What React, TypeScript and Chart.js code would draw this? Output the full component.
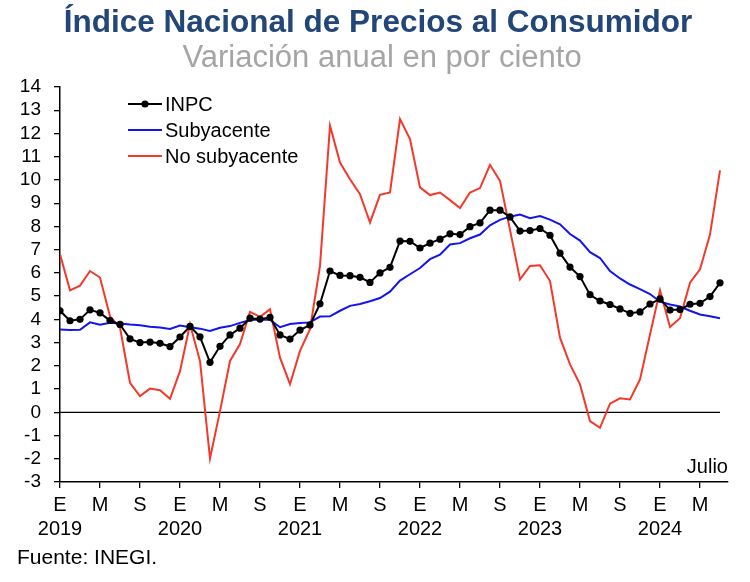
import React, { useEffect, useRef } from 'react';
import { Chart, registerables } from 'chart.js';

Chart.register(...registerables);

// Months from January 2019 to July 2024
const startYear = 2019;
const monthLetters = ['E', 'F', 'M', 'A', 'M', 'J', 'J', 'A', 'S', 'O', 'N', 'D'];
const tickMonths = [0, 4, 8, 12, 16, 20, 24, 28, 32, 36, 40, 44, 48, 52, 56, 60, 64];

const seriesNames = ['INPC', 'Subyacente', 'No subyacente'];
const seriesColors = ['#000000', '#1414F0', '#F2392B'];

const inpc = [
  4.37, 3.94, 4.00, 4.41, 4.28, 3.95, 3.78, 3.16, 3.00, 3.02, 2.97, 2.83,
  3.24, 3.70, 3.25, 2.15, 2.84, 3.33, 3.62, 4.05, 4.01, 4.09, 3.33, 3.15,
  3.54, 3.76, 4.67, 6.08, 5.89, 5.88, 5.81, 5.59, 6.00, 6.24, 7.37, 7.36,
  7.07, 7.28, 7.45, 7.68, 7.65, 7.99, 8.15, 8.70, 8.70, 8.41, 7.80, 7.82,
  7.91, 7.62, 6.85, 6.25, 5.84, 5.06, 4.79, 4.64, 4.45, 4.26, 4.32, 4.66,
  4.88, 4.40, 4.42, 4.65, 4.69, 4.98, 5.57,
];

const subyacente = [
  3.56, 3.54, 3.55, 3.87, 3.77, 3.85, 3.82, 3.78, 3.75, 3.68, 3.65, 3.59,
  3.73, 3.66, 3.60, 3.50, 3.64, 3.71, 3.85, 3.97, 3.99, 3.98, 3.66, 3.80,
  3.84, 3.87, 4.12, 4.13, 4.37, 4.58, 4.66, 4.78, 4.92, 5.19, 5.67, 5.94,
  6.21, 6.59, 6.78, 7.22, 7.28, 7.49, 7.65, 8.05, 8.28, 8.42, 8.51, 8.35,
  8.45, 8.29, 8.09, 7.67, 7.39, 6.89, 6.64, 6.08, 5.76, 5.50, 5.30, 5.09,
  4.76, 4.64, 4.55, 4.37, 4.21, 4.13, 4.05,
];

const noSubyacente = [
  6.80, 5.25, 5.45, 6.08, 5.80, 4.13, 3.65, 1.27, 0.70, 1.02, 0.95, 0.58,
  1.77, 3.79, 2.21, -1.99, 0.05, 2.21, 2.94, 4.32, 4.11, 4.43, 2.35, 1.21,
  2.64, 3.58, 6.30, 12.33, 10.75, 10.03, 9.39, 8.17, 9.36, 9.46, 12.62, 11.76,
  9.68, 9.35, 9.46, 9.13, 8.79, 9.46, 9.65, 10.65, 9.96, 7.85, 5.72, 6.30,
  6.33, 5.65, 3.21, 2.06, 1.20, -0.38, -0.67, 0.37, 0.60, 0.55, 1.41, 3.35,
  5.25, 3.67, 4.05, 5.58, 6.15, 7.65, 10.41,
];

const yMin = -3;
const yMax = 14;
const xMax = 66.8;

const FONT = '"Liberation Sans", Arial, Helvetica, sans-serif';

const toPoints = (arr: number[]) => arr.map((v, i) => ({ x: i, y: v }));

const legendPlugin = {
  id: 'customLegend',
  afterDraw(chart: any) {
    const ctx = chart.ctx as CanvasRenderingContext2D;
    ctx.save();
    seriesNames.forEach((name, i) => {
      const y = 104 + i * 26;
      ctx.strokeStyle = seriesColors[i];
      ctx.lineWidth = 2;
      ctx.beginPath();
      ctx.moveTo(128, y);
      ctx.lineTo(162, y);
      ctx.stroke();
      if (i === 0) {
        ctx.fillStyle = '#000';
        ctx.beginPath();
        ctx.arc(145, y, 3.6, 0, Math.PI * 2);
        ctx.fill();
      }
      ctx.fillStyle = '#000';
      ctx.font = `20px ${FONT}`;
      ctx.textBaseline = 'middle';
      ctx.textAlign = 'left';
      ctx.fillText(name, 165, y + 1);
    });
    ctx.restore();
  },
};

function App() {
  const ref = useRef<HTMLCanvasElement | null>(null);

  useEffect(() => {
    if (!ref.current) return;
    const chart = new Chart(ref.current, {
      type: 'line',
      data: {
        datasets: [
          {
            label: seriesNames[0],
            data: toPoints(inpc),
            borderColor: seriesColors[0],
            backgroundColor: seriesColors[0],
            borderWidth: 2,
            pointRadius: 3.6,
            pointBorderWidth: 0,
            pointBackgroundColor: '#000',
            tension: 0,
          },
          {
            label: seriesNames[1],
            data: toPoints(subyacente),
            borderColor: seriesColors[1],
            borderWidth: 2,
            pointRadius: 0,
            tension: 0,
          },
          {
            label: seriesNames[2],
            data: toPoints(noSubyacente),
            borderColor: seriesColors[2],
            borderWidth: 2,
            pointRadius: 0,
            tension: 0,
          },
          {
            label: 'cero',
            data: [
              { x: 0, y: 0 },
              { x: inpc.length - 1, y: 0 },
            ],
            borderColor: '#000',
            borderWidth: 1.3,
            pointRadius: 0,
          },
        ],
      },
      options: {
        responsive: false,
        animation: false,
        devicePixelRatio: 1,
        layout: { padding: { top: 87, right: 22, left: 0, bottom: 0 } },
        plugins: {
          legend: { display: false },
          tooltip: { enabled: false },
          title: { display: false },
        },
        scales: {
          x: {
            type: 'linear',
            min: 0,
            max: xMax,
            afterBuildTicks: (s: any) => {
              s.ticks = tickMonths.map((v) => ({ value: v }));
            },
            afterFit: (s: any) => {
              s.height = 100;
            },
            grid: {
              drawOnChartArea: false,
              drawTicks: true,
              tickLength: 6,
              color: '#000',
              lineWidth: 1.3,
            },
            border: { display: true, color: '#000', width: 1.5 },
            ticks: {
              autoSkip: false,
              maxRotation: 0,
              padding: 5,
              color: '#000',
              font: { family: FONT, size: 20, lineHeight: 1.225 },
              callback: (v: any) => {
                const m = Number(v);
                return [monthLetters[m % 12], m % 12 === 0 ? String(startYear + m / 12) : ''];
              },
            },
          },
          y: {
            min: yMin,
            max: yMax,
            afterFit: (s: any) => {
              s.width = 60;
            },
            grid: {
              drawOnChartArea: false,
              drawTicks: true,
              tickLength: 6,
              color: '#000',
              lineWidth: 1.3,
            },
            border: { display: true, color: '#000', width: 1.5 },
            ticks: {
              stepSize: 1,
              autoSkip: false,
              padding: 13,
              color: '#000',
              font: { family: FONT, size: 19 },
            },
          },
        },
      },
      plugins: [legendPlugin],
    });
    return () => chart.destroy();
  }, []);

  return (
    <div style={{ position: 'absolute', left: 0, top: 0, width: 750, height: 582, background: '#fff', fontFamily: FONT }}>
      <canvas ref={ref} width={750} height={582} style={{ position: 'absolute', left: 0, top: 0, width: 750, height: 582 }} />
      <div
        style={{
          position: 'absolute', left: 3, top: 6, width: 750, textAlign: 'center',
          fontSize: 31.5, lineHeight: '31.5px', fontWeight: 'bold', color: '#234679', whiteSpace: 'nowrap',
        }}
      >
        Índice Nacional de Precios al Consumidor
      </div>
      <div
        style={{
          position: 'absolute', left: 7, top: 41, width: 750, textAlign: 'center',
          fontSize: 31, lineHeight: '31px', color: '#A5A5A5', whiteSpace: 'nowrap',
        }}
      >
        Variación anual en por ciento
      </div>
      <div
        style={{
          position: 'absolute', right: 22, top: 456, fontSize: 20, lineHeight: '20px', color: '#000', whiteSpace: 'nowrap',
        }}
      >
        Julio
      </div>
      <div
        style={{
          position: 'absolute', left: 17, top: 546, fontSize: 21, lineHeight: '21px', color: '#000', whiteSpace: 'nowrap',
        }}
      >
        Fuente: INEGI.
      </div>
    </div>
  );
}

export default App;
